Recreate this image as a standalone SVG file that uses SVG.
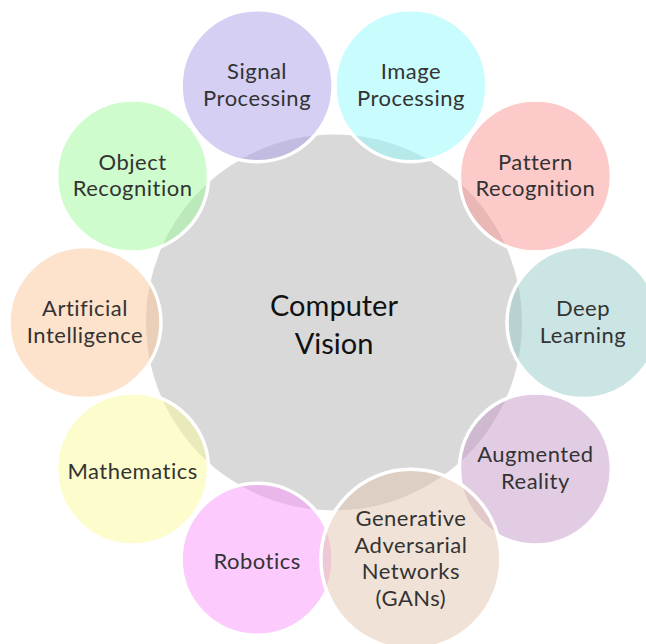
<svg xmlns="http://www.w3.org/2000/svg" width="646" height="644" viewBox="0 0 646 644">
<style>
  .bub { stroke: #ffffff; stroke-width: 3.5; fill-opacity: 0.5; }
  .lbl { font-family: Lato, "Open Sans", "Liberation Sans", sans-serif; font-size: 22px; letter-spacing: 0.5px; fill: #333333; text-anchor: middle; }
  .ctr { font-family: Lato, "Open Sans", "Liberation Sans", sans-serif; font-size: 29px; fill: #111111; text-anchor: middle; }
</style>
<rect width="646" height="644" fill="#ffffff"/>
<g id="center">
  <circle cx="334" cy="322.5" r="188" fill="#d9d9d9"/>
  <text class="ctr" x="334" y="316">Computer</text>
  <text class="ctr" x="334" y="353.5">Vision</text>
</g>
<g id="connectors"></g>
<g id="deep-learning">
  <circle class="bub" cx="583" cy="322.5" r="76" fill="#97c9c9"/>
  <text class="lbl" x="583" y="316">Deep</text>
  <text class="lbl" x="583" y="342.5">Learning</text>
</g>
<g id="pattern-recognition">
  <circle class="bub" cx="535.4" cy="176.1" r="76" fill="#fb9595"/>
  <text class="lbl" x="535.4" y="169.5">Pattern</text>
  <text class="lbl" x="535.4" y="196">Recognition</text>
</g>
<g id="image-processing">
  <circle class="bub" cx="410.9" cy="85.7" r="76" fill="#91f9fb"/>
  <text class="lbl" x="410.9" y="79.2">Image</text>
  <text class="lbl" x="410.9" y="105.7">Processing</text>
</g>
<g id="signal-processing">
  <circle class="bub" cx="257.1" cy="85.7" r="76" fill="#ab9fe7"/>
  <text class="lbl" x="257.1" y="79.2">Signal</text>
  <text class="lbl" x="257.1" y="105.7">Processing</text>
</g>
<g id="object-recognition">
  <circle class="bub" cx="132.6" cy="176.1" r="76" fill="#9df999"/>
  <text class="lbl" x="132.6" y="169.5">Object</text>
  <text class="lbl" x="132.6" y="196">Recognition</text>
</g>
<g id="artificial-intelligence">
  <circle class="bub" cx="85" cy="322.5" r="76" fill="#fbc599"/>
  <text class="lbl" x="85" y="316">Artificial</text>
  <text class="lbl" x="85" y="342.5">Intelligence</text>
</g>
<g id="mathematics">
  <circle class="bub" cx="132.6" cy="468.9" r="76" fill="#fbf999"/>
  <text class="lbl" x="132.6" y="479">Mathematics</text>
</g>
<g id="robotics">
  <circle class="bub" cx="257.1" cy="559.3" r="76" fill="#f995fb"/>
  <text class="lbl" x="257.1" y="569.3">Robotics</text>
</g>
<g id="augmented-reality">
  <circle class="bub" cx="535.4" cy="468.9" r="76" fill="#c599c9"/>
  <text class="lbl" x="535.4" y="462.4">Augmented</text>
  <text class="lbl" x="535.4" y="488.9">Reality</text>
</g>
<g id="gans">
  <circle class="bub" cx="410.9" cy="559.3" r="90" fill="#e1c5ad"/>
  <text class="lbl" x="410.9" y="526.3">Generative</text>
  <text class="lbl" x="410.9" y="552.8">Adversarial</text>
  <text class="lbl" x="410.9" y="579.3">Networks</text>
  <text class="lbl" x="410.9" y="605.8">(GANs)</text>
</g>
</svg>
